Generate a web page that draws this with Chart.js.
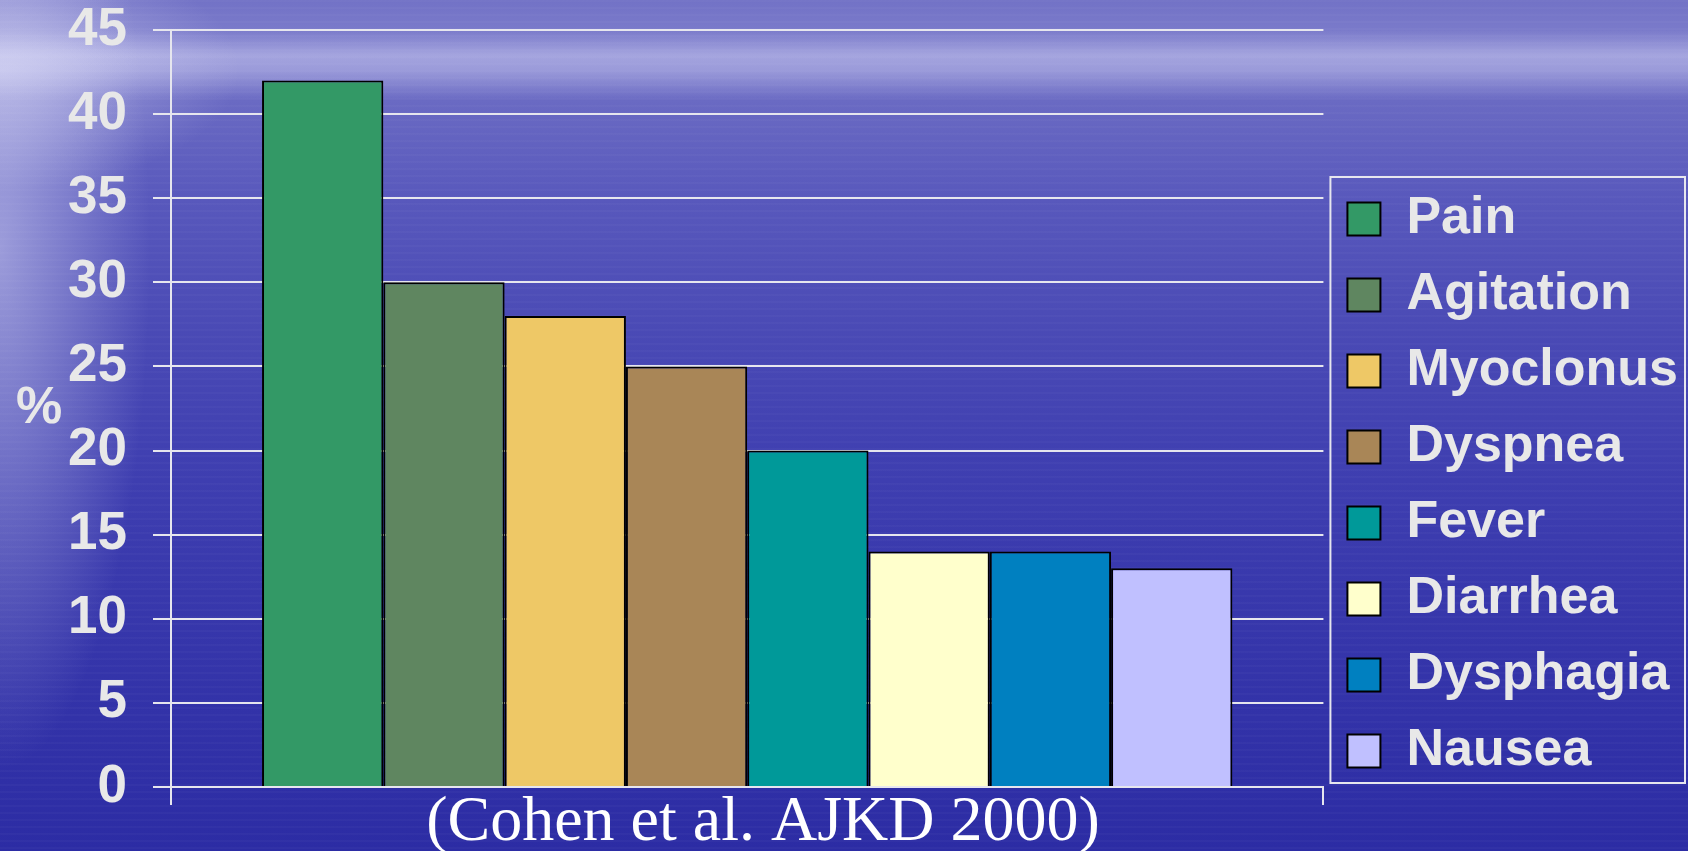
<!DOCTYPE html>
<html>
<head>
<meta charset="utf-8">
<title>Symptoms in the last days of life</title>
<script src="https://cdn.jsdelivr.net/npm/chart.js@4.4.1/dist/chart.umd.min.js"></script>
<style>
  html, body { margin: 0; padding: 0; width: 1688px; height: 851px; overflow: hidden; }
  body {
    background:
      repeating-linear-gradient(180deg, rgba(255,255,255,0.025) 0px, rgba(255,255,255,0.025) 2px, rgba(255,255,255,0) 2px, rgba(255,255,255,0) 7px),
      radial-gradient(ellipse 150px 520px at 0px 250px, rgba(228,228,250,0.5), rgba(228,228,250,0) 100%),
      radial-gradient(ellipse 240px 120px at 0px 70px, rgba(232,232,252,0.45), rgba(232,232,252,0) 100%),
      linear-gradient(180deg, rgba(212,212,245,0) 30px, rgba(212,212,245,0.5) 55px, rgba(212,212,245,0.42) 70px, rgba(212,212,245,0) 100px),
      linear-gradient(180deg, #7272c6 0px, #7a7aca 30px, #6a6ac3 100px, #5858bc 200px, #4a4ab5 330px, #3e3eb0 480px, #3535aa 650px, #2c2ca4 851px);
  }
  #wrap { position: relative; width: 1688px; height: 851px; }
  canvas { display: block; }
</style>
</head>
<body>
<div id="wrap"><canvas id="chart" width="1688" height="851"></canvas></div>
<script>
// Chart data
const categories = [''];
const seriesNames = ['Pain', 'Agitation', 'Myoclonus', 'Dyspnea', 'Fever', 'Diarrhea', 'Dysphagia', 'Nausea'];
const seriesValues = [42, 30, 28, 25, 20, 14, 14, 13];
const yTickValues = [0, 5, 10, 15, 20, 25, 30, 35, 40, 45];
const yAxisLabel = '%';
const sourceNote = '(Cohen et al. AJKD 2000)';

// Styling
const seriesColors = ['#339966', '#5f8660', '#eec866', '#a98657', '#009999', '#ffffcc', '#0080c0', '#c0c0ff'];
const lineColor = '#e6e6ee';
const labelColor = '#e8e8e8';

Chart.defaults.font.family = "'Liberation Sans', Arial, sans-serif";

// Frame around the legend, the "%" axis label and the source line
const overlayText = {
  id: 'overlayText',
  afterDraw(chart) {
    const { ctx, chartArea } = chart;
    ctx.save();
    const boxes = chart.legend && chart.legend.legendHitBoxes;
    if (boxes && boxes.length) {
      const first = boxes[0];
      const last = boxes[boxes.length - 1];
      const l = first.left - 17;
      const t = first.top - 16;
      const r = chart.width - 3;
      const b = last.top + last.height + 6;
      ctx.strokeStyle = lineColor;
      ctx.lineWidth = 2;
      ctx.strokeRect(l, t, r - l, b - t);
    }
    ctx.fillStyle = labelColor;
    ctx.font = "bold 52px 'Liberation Sans', Arial, sans-serif";
    ctx.textAlign = 'center';
    ctx.textBaseline = 'middle';
    ctx.fillText(yAxisLabel, chart.scales.y.left + 39, (chartArea.top + chartArea.bottom) / 2);

    ctx.fillStyle = '#ffffff';
    ctx.font = "64px 'Liberation Serif', 'Times New Roman', serif";
    ctx.textAlign = 'center';
    ctx.textBaseline = 'alphabetic';
    ctx.fillText(sourceNote, 763, 840);
    ctx.restore();
  }
};

new Chart(document.getElementById('chart'), {
  type: 'bar',
  data: {
    labels: categories,
    datasets: seriesNames.map((name, i) => ({
      label: name,
      data: [seriesValues[i]],
      backgroundColor: seriesColors[i],
      borderColor: '#000000',
      borderWidth: 2,
      barPercentage: 1,
      categoryPercentage: 0.842
    }))
  },
  options: {
    responsive: false,
    animation: false,
    devicePixelRatio: 1,
    layout: { padding: { top: 30, left: 0, right: 0, bottom: 50 } },
    plugins: {
      tooltip: { enabled: false },
      title: { display: false },
      legend: {
        position: 'right',
        align: 'end',
        labels: {
          color: labelColor,
          font: { size: 52, weight: 'bold' },
          boxWidth: 33,
          boxHeight: 33,
          padding: 24
        }
      }
    },
    scales: {
      x: {
        grid: {
          display: true,
          drawOnChartArea: false,
          drawTicks: true,
          tickLength: 18,
          color: lineColor,
          lineWidth: 2,
          offset: true
        },
        border: { display: true, color: lineColor, width: 2 },
        ticks: { display: false },
        afterFit(scale) { scale.height = 14; }
      },
      y: {
        min: 0,
        max: 45,
        afterBuildTicks(scale) { scale.ticks = yTickValues.map(v => ({ value: v })); },
        ticks: {
          color: labelColor,
          font: { size: 53, weight: 'bold', lineHeight: 1 },
          padding: 26
        },
        grid: { color: lineColor, lineWidth: 2, tickLength: 18, drawTicks: true },
        border: { display: true, color: lineColor, width: 2 },
        afterFit(scale) {
          scale.width = 171;
          scale.paddingTop = 0;
          scale.paddingBottom = 0;
        }
      }
    }
  },
  plugins: [overlayText]
});
</script>
</body>
</html>
